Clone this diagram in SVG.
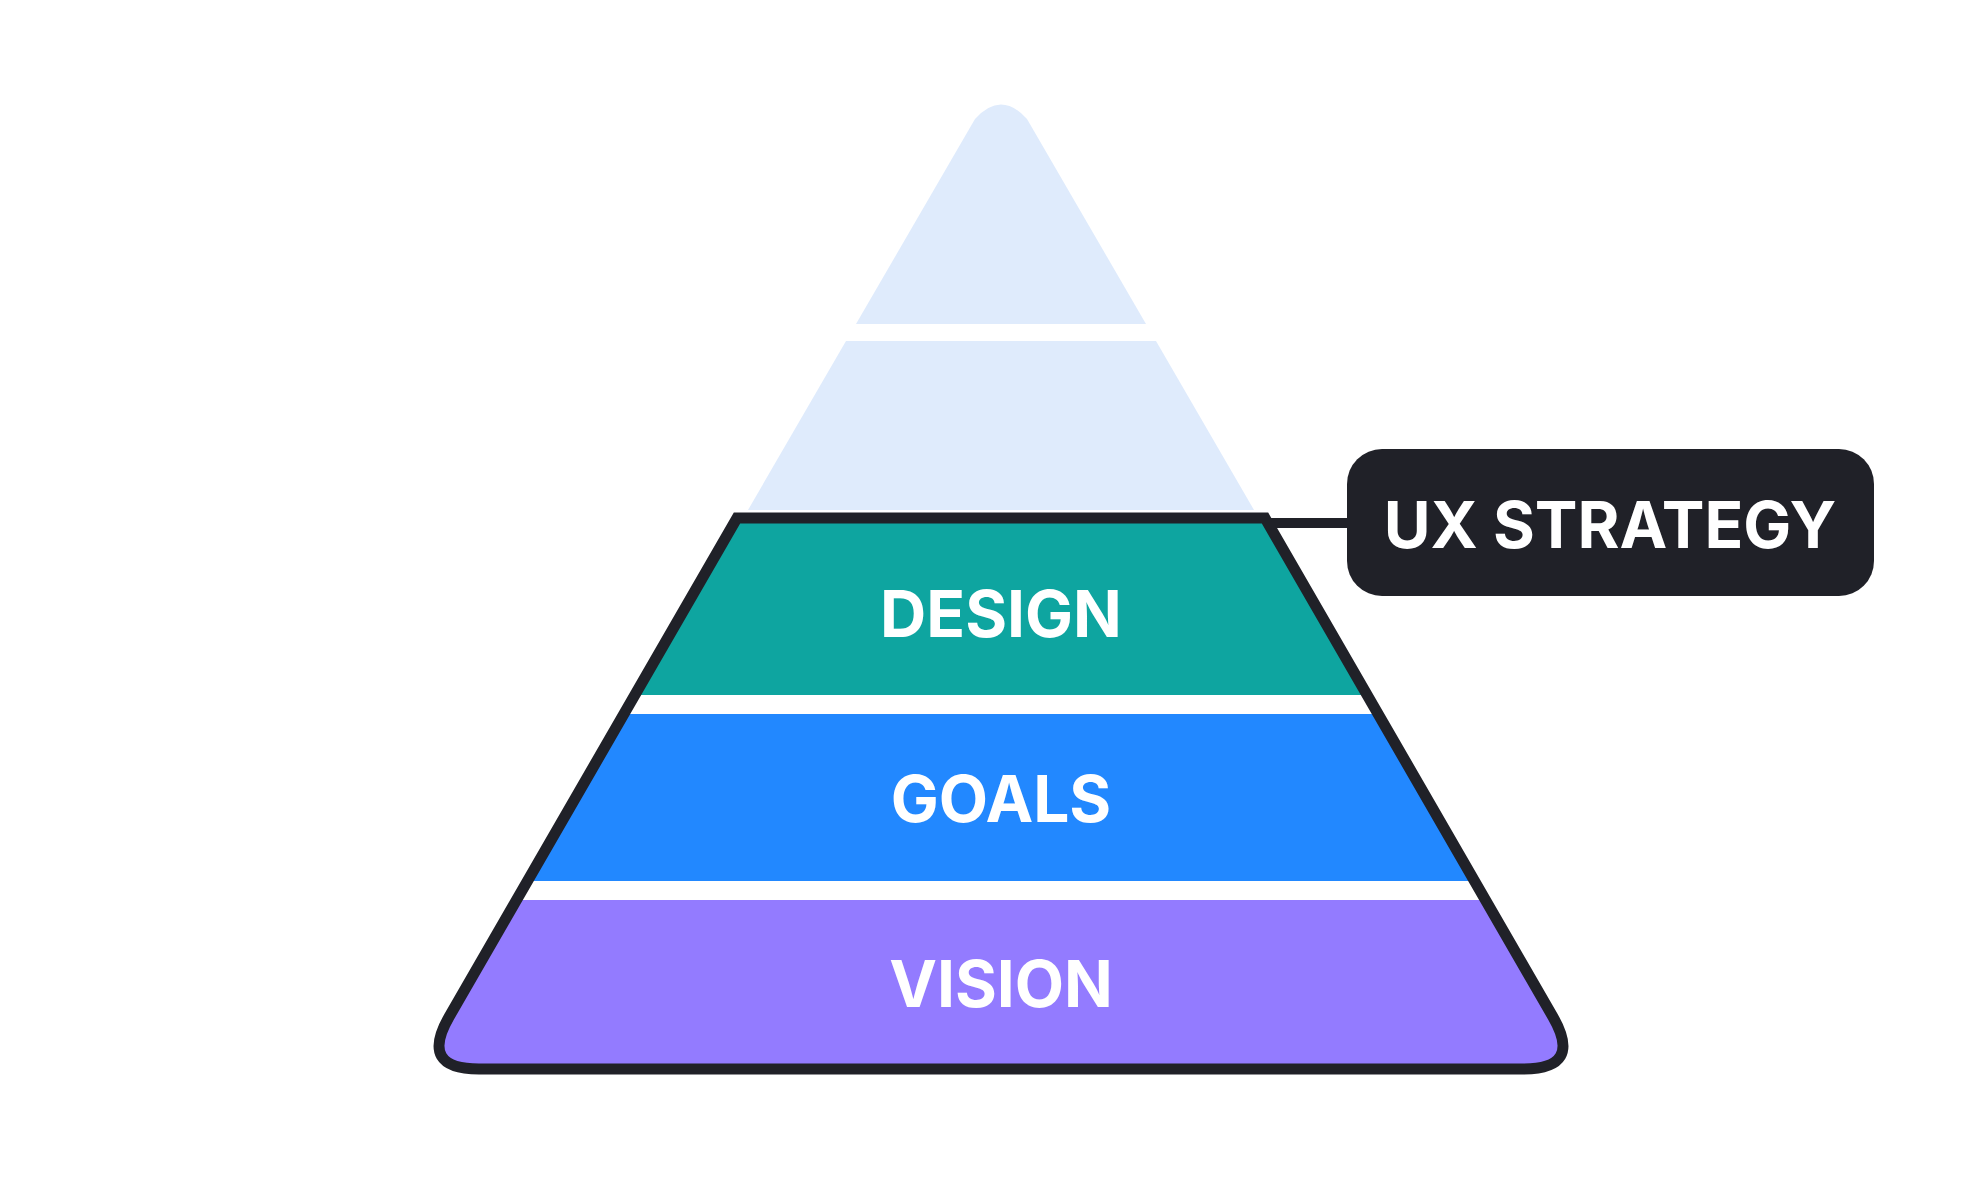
<svg xmlns="http://www.w3.org/2000/svg" width="1968" height="1200" viewBox="0 0 1968 1200">
<style>
.lbl{font-family:Inter,"Liberation Sans",sans-serif;font-weight:700;font-size:64px;fill:#fff;text-anchor:middle}
.light{fill:#DFEBFC}
</style>
<defs>
<clipPath id="clip"><path d="M737,518 L1265,518 L1553,1017 Q1583,1069 1523,1069 L479,1069 Q419,1069 449,1017 Z"/></clipPath>
</defs>
<rect width="1968" height="1200" fill="#fff"/>
<g id="top">
<path class="light" d="M856,324 L975,119 Q1001,90 1027,119 L1146,324 Z"/>
</g>
<g id="band2">
<path class="light" d="M846,341 L1156,341 L1254,510 L748,510 Z"/>
</g>
<g id="strategy" clip-path="url(#clip)">
<rect x="400" y="518" width="1200" height="177" fill="#0EA5A0"/>
<rect x="400" y="714" width="1200" height="167" fill="#2288FF"/>
<rect x="400" y="900" width="1200" height="180" fill="#937BFF"/>
</g>
<path d="M737,518 L1265,518 L1553,1017 Q1583,1069 1523,1069 L479,1069 Q419,1069 449,1017 Z" fill="none" stroke="#202128" stroke-width="11" stroke-linejoin="miter"/>
<g id="connectors">
<line x1="1265" y1="523" x2="1350" y2="523" stroke="#202128" stroke-width="10"/>
</g>
<g id="design"><text class="lbl" x="1001" y="637">DESIGN</text></g>
<g id="goals"><text class="lbl" x="1001" y="822">GOALS</text></g>
<g id="vision"><text class="lbl" x="1001" y="1007">VISION</text></g>
<g id="ux">
<rect x="1347" y="449" width="527" height="147" rx="35" fill="#202128"/>
<text class="lbl" x="1610" y="548">UX STRATEGY</text>
</g>
</svg>
